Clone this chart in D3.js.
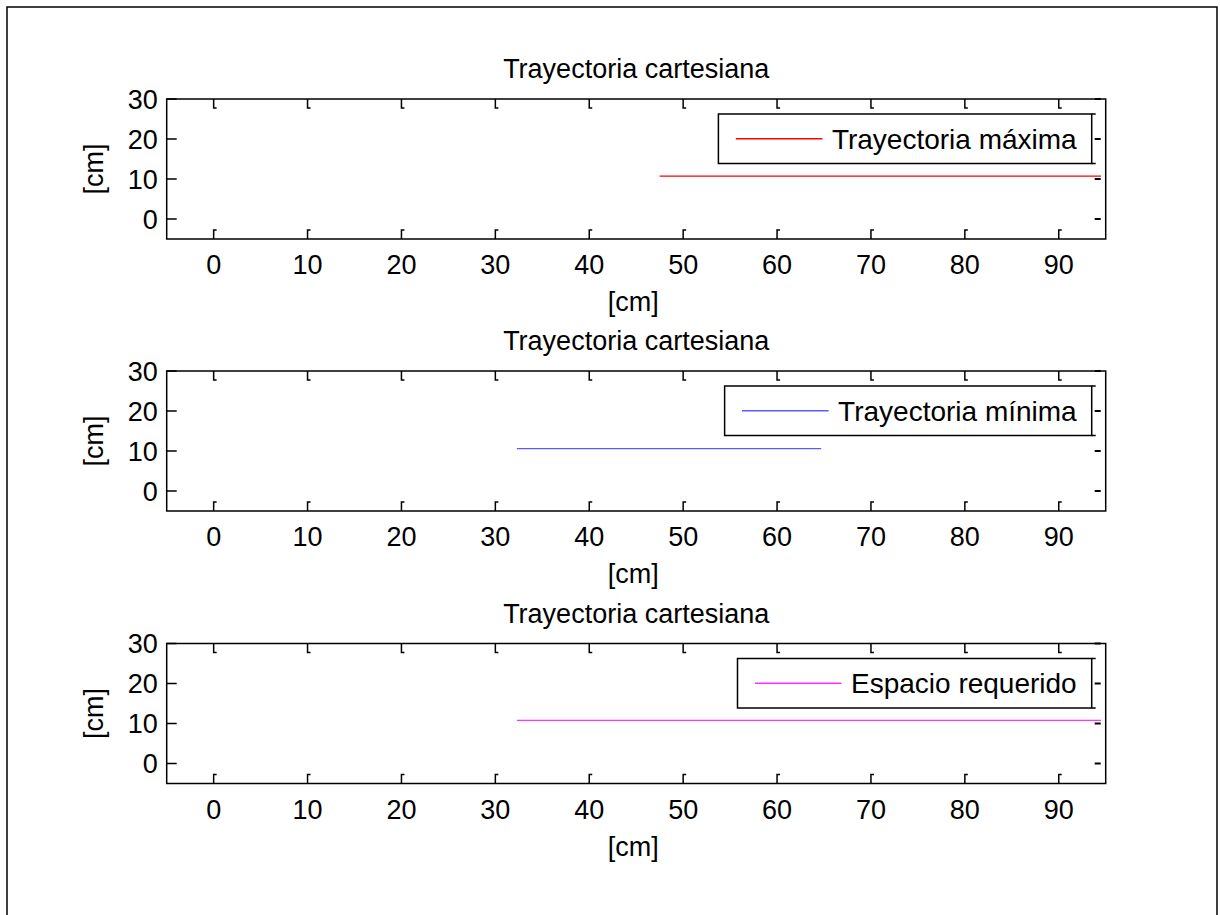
<!DOCTYPE html>
<html>
<head>
<meta charset="utf-8">
<script src="https://cdn.jsdelivr.net/npm/d3@7"></script>
<style>
  html, body { margin: 0; padding: 0; background: #fff; }
  svg text { font-family: "Liberation Sans", Arial, sans-serif; fill: #000; }
</style>
</head>
<body>
<div id="chart"></div>
<script>
// ---- data ----
const xTicks = [0, 10, 20, 30, 40, 50, 60, 70, 80, 90];
const yTicks = [0, 10, 20, 30];
const xDomain = [-5, 95];
const yDomain = [-5, 30];
const titles = ["Trayectoria cartesiana", "Trayectoria cartesiana", "Trayectoria cartesiana"];
const xLabel = "[cm]";
const yLabel = "[cm]";
const legendNames = ["Trayectoria máxima", "Trayectoria mínima", "Espacio requerido"];
const seriesColors = ["#ff0000", "#5a5aff", "#ff33ff"];
const maxX = [47.5, 94.5];
const maxY = [10.7, 10.7];
const minX = [32.3, 64.7];
const minY = [10.6, 10.6];
const reqX = [32.3, 94.5];
const reqY = [10.8, 10.8];
const seriesX = [maxX, minX, reqX];
const seriesY = [maxY, minY, reqY];

// ---- layout ----
const W = 1220, H = 915;
const left = 166.7, right = 1105.7;
const panelTops = [99, 371, 643.5];
const panelH = 140;
const fontSize = 27;
const legendFont = 28;

const svg = d3.select("#chart").append("svg")
  .attr("width", W).attr("height", H);

svg.append("rect").attr("x", 7).attr("y", 7).attr("width", 1210).attr("height", 1000)
  .attr("fill", "none").attr("stroke", "#000").attr("stroke-width", 1.5);

const x = d3.scaleLinear().domain(xDomain).range([left, right]);

panelTops.forEach((top, i) => {
  const bottom = top + panelH;
  const y = d3.scaleLinear().domain(yDomain).range([bottom, top]);
  const g = svg.append("g");

  // data line
  const pts = seriesX[i].map((d, k) => [d, seriesY[i][k]]);
  g.append("path")
    .attr("d", d3.line().x(d => x(d[0])).y(d => y(d[1]))(pts))
    .attr("fill", "none").attr("stroke", seriesColors[i]).attr("stroke-width", 1.3);

  // frame
  g.append("rect").attr("x", left).attr("y", top).attr("width", right - left).attr("height", panelH)
    .attr("fill", "none").attr("stroke", "#000").attr("stroke-width", 1.5);

  // ticks (x top & bottom with small hooks)
  const tk = 9;
  xTicks.forEach(t => {
    const px = x(t);
    g.append("path").attr("d", `M${px},${top}V${top + tk}h3`)
      .attr("fill", "none").attr("stroke", "#000").attr("stroke-width", 1.5);
    g.append("path").attr("d", `M${px},${bottom}V${bottom - tk}h3`)
      .attr("fill", "none").attr("stroke", "#000").attr("stroke-width", 1.5);
  });
  yTicks.forEach(t => {
    const py = y(t);
    g.append("line").attr("x1", left).attr("x2", left + 10).attr("y1", py).attr("y2", py)
      .attr("stroke", "#000").attr("stroke-width", 1.5);
    g.append("line").attr("x1", right - 11).attr("x2", right - 5).attr("y1", py).attr("y2", py)
      .attr("stroke", "#000").attr("stroke-width", 2);
  });

  // tick labels
  g.selectAll(".xl").data(xTicks).enter().append("text")
    .attr("x", d => x(d)).attr("y", bottom + 35)
    .attr("text-anchor", "middle").attr("font-size", fontSize).text(d => d);
  g.selectAll(".yl").data(yTicks).enter().append("text")
    .attr("x", left - 9).attr("y", d => y(d)).attr("dy", "0.36em")
    .attr("text-anchor", "end").attr("font-size", fontSize).text(d => d);

  // title & labels
  g.append("text").attr("x", (left + right) / 2).attr("y", top - 21)
    .attr("text-anchor", "middle").attr("font-size", fontSize).text(titles[i]);
  g.append("text").attr("x", (left + right) / 2 - 3).attr("y", bottom + 72)
    .attr("text-anchor", "middle").attr("font-size", fontSize).text(xLabel);
  g.append("text").attr("transform", `translate(103,${(top + bottom) / 2}) rotate(-90)`)
    .attr("text-anchor", "middle").attr("font-size", fontSize).text(yLabel);

  // legend
  const legRight = right - 14;
  const legTop = top + 15;
  const legH = 49.5;
  const lg = g.append("g");
  const txt = lg.append("text").attr("font-size", legendFont).text(legendNames[i]);
  const tw = txt.node().getComputedTextLength();
  const textX = legRight - 15 - tw;
  const lineX2 = textX - 9.5;
  const lineX1 = lineX2 - 86.6;
  const legLeft = lineX1 - 17.4;
  txt.attr("x", textX).attr("y", legTop + legH / 2).attr("dy", "0.36em");
  lg.insert("rect", "text").attr("x", legLeft).attr("y", legTop).attr("width", legRight - legLeft).attr("height", legH)
    .attr("fill", "#fff").attr("stroke", "#000").attr("stroke-width", 1.5);
  lg.append("line").attr("x1", lineX1).attr("x2", lineX2)
    .attr("y1", legTop + legH / 2).attr("y2", legTop + legH / 2)
    .attr("stroke", seriesColors[i]).attr("stroke-width", 1.3);
  lg.append("path").attr("d", `M${legRight},${legTop}h4M${legRight},${legTop + legH}h4`)
    .attr("stroke", "#000").attr("stroke-width", 1.5);
});
</script>
</body>
</html>
